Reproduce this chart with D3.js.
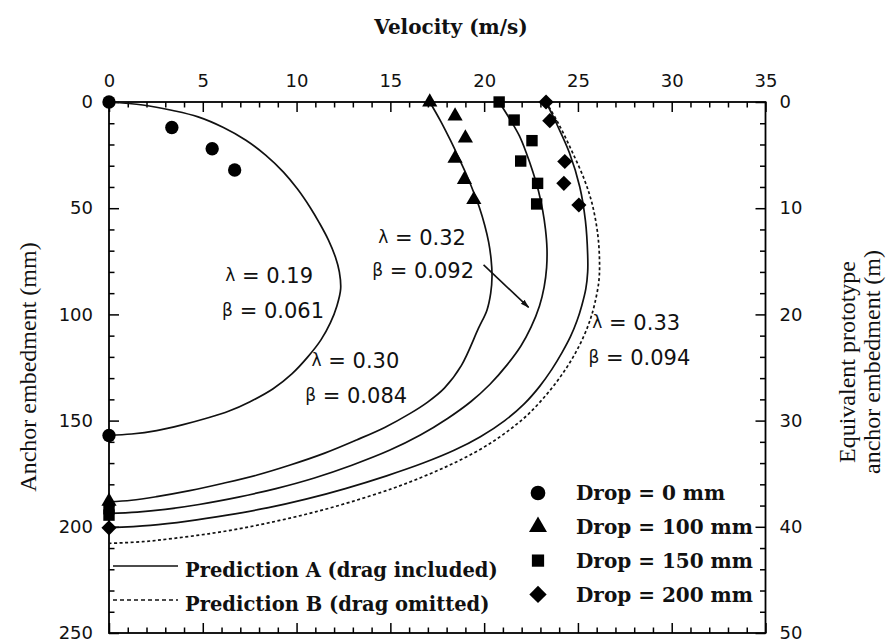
<!DOCTYPE html>
<html>
<head>
<meta charset="utf-8">
<script src="https://cdn.jsdelivr.net/npm/d3@7"></script>
<style>
  html, body { margin: 0; padding: 0; background: #fff; }
  svg { display: block; }
</style>
</head>
<body>
<svg id="chart" width="890" height="644"></svg>
<script>
// ---- data: velocity (m/s) vs anchor embedment (mm) ----
const velocityTicks = [0, 5, 10, 15, 20, 25, 30, 35];
const embedmentTicks = [0, 50, 100, 150, 200, 250];
const prototypeTicks = [0, 10, 20, 30, 40, 50];

// measured points [velocity, embedment]
const drop0 = [[0, 0], [3.35, 12], [5.5, 22], [6.7, 32], [0, 157]];
const drop100 = [[17.1, 0], [18.45, 6.6], [19.0, 17], [18.45, 26.5], [18.95, 36.5], [19.45, 46], [0, 188]];
const drop150 = [[20.8, 0], [21.6, 8.5], [22.55, 18.2], [21.95, 27.8], [22.85, 38.3], [22.8, 48], [0, 191.5], [0, 194.5]];
const drop200 = [[23.3, 0], [23.5, 8.8], [24.3, 28], [24.25, 38.3], [25.05, 48.5], [0, 200.5]];

// Prediction A (drag included), [velocity, embedment]
const predA019 = [[0, 0], [1.8, 1.4], [3.4, 4], [4.75, 7], [6.1, 12], [7.3, 18], [8.35, 25], [9.3, 33], [10.05, 41], [10.75, 50], [11.22, 57], [11.7, 65], [12.07, 73], [12.28, 80], [12.35, 88], [12.15, 96], [11.8, 104], [11.3, 112], [10.6, 120], [9.75, 128], [8.75, 135], [7.52, 141.1], [6.4, 145.5], [5.2, 148.9], [3.9, 152], [2.54, 154.7], [1.2, 156.3], [0, 156.9]];
const predA030 = [[17.1, 0], [17.68, 9], [18.2, 18], [18.63, 26], [19.05, 34], [19.42, 42], [19.76, 50], [20.03, 58], [20.24, 66], [20.37, 74], [20.42, 82], [20.35, 90], [20.15, 98], [19.7, 106.5], [18.79, 124], [17.88, 134.7], [16.97, 141.4], [16.06, 146.6], [14.7, 153.2], [13.2, 159.1], [11.5, 165.3], [9.66, 170.9], [7.9, 175.6], [6.1, 179.5], [4.3, 183], [2.54, 185.8], [1.2, 187.5], [0, 188.2]];
const predA032 = [[20.8, 0], [21.4, 8.5], [21.88, 16], [22.25, 24], [22.6, 33], [22.9, 42], [23.12, 51], [23.27, 60], [23.35, 69], [23.33, 78], [23.2, 87], [22.95, 96], [22.5, 106], [21.95, 115], [21.2, 124], [20.3, 133], [19.3, 141], [18.05, 149], [16.6, 156.8], [14.95, 164], [12.95, 171], [10.95, 177], [8.9, 182], [6.9, 186], [4.8, 189.5], [3.0, 191.8], [1.5, 193.1], [0, 193.7]];
const predA033 = [[23.3, 0], [23.85, 10], [24.55, 24], [25.1, 40], [25.4, 56], [25.52, 72], [25.52, 80], [25.42, 88], [25.2, 96], [24.95, 103], [24.6, 110.5], [24.15, 118], [23.6, 126], [22.95, 134], [22.15, 142], [21.1, 150], [19.8, 157.6], [18.4, 164], [16.75, 170], [14.8, 176], [12.6, 182], [10.5, 187], [8.5, 191], [6.3, 194.5], [4.2, 197.3], [2.2, 199.3], [0, 200.4]];
// Prediction B (drag omitted)
const predB033 = [[23.3, 0], [23.95, 10], [24.65, 22.6], [25.35, 36.7], [25.75, 47.7], [26.05, 61.8], [26.15, 74.4], [26.12, 84], [25.9, 94.8], [25.65, 102.6], [25.3, 110.5], [24.75, 120], [24.07, 129.3], [23.3, 138], [22.4, 146.6], [21.55, 153], [20.6, 159.1], [19.5, 165], [18.15, 171], [16.75, 176.4], [15.1, 182], [13.0, 188], [11.0, 193], [9.1, 197], [7.2, 200.5], [5.3, 203.3], [3.4, 205.5], [1.8, 207], [0, 207.8]];

// parameter labels [symbol, value, velocity, embedment]
const paramLabels = [
  ["λ", "0.19", 6.2, 85.2], ["β", "0.061", 6.03, 101.7],
  ["λ", "0.30", 10.8, 125.2], ["β", "0.084", 10.46, 141.7],
  ["λ", "0.32", 14.35, 67.3], ["β", "0.092", 14.03, 82.9],
  ["λ", "0.33", 25.77, 107.3], ["β", "0.094", 25.56, 123.8]
];
const arrowFromTo = [[19.97, 76.7], [22.37, 96.7]];

const legendDrops = ["Drop = 0 mm", "Drop = 100 mm", "Drop = 150 mm", "Drop = 200 mm"];
const legendLines = ["Prediction A (drag included)", "Prediction B (drag omitted)"];

// ---- layout ----
const svg = d3.select("#chart");
const plotL = 109, plotR = 765.5, plotT = 102, plotB = 633;
const x = d3.scaleLinear().domain([0, 35]).range([plotL, plotR]);
const y = d3.scaleLinear().domain([0, 250]).range([plotT, plotB]);
const yR = d3.scaleLinear().domain([0, 50]).range([plotT, plotB]);

const tickFont = "'DejaVu Sans', Verdana, sans-serif";
const times = "'Liberation Serif', 'Times New Roman', serif";
const bookFont = "'DejaVu Serif', 'Century Schoolbook', serif";

function styleAxis(g) {
  g.select(".domain").remove();
  g.selectAll("line").attr("stroke", "#000").attr("stroke-width", 1.5);
  g.selectAll("text").attr("font-family", tickFont).attr("font-size", 18).attr("fill", "#111");
}

// minor ticks
const minorV = d3.range(0, 35.01, 1).filter(v => v % 5 !== 0);
const minorE = d3.range(0, 250.01, 10).filter(v => v % 50 !== 0);
const minorP = d3.range(0, 50.01, 2).filter(v => v % 10 !== 0);
const majLen = -10, minLen = -5.5;

svg.append("g").attr("transform", `translate(0,${plotT})`)
  .call(d3.axisTop(x).tickValues(velocityTicks).tickSize(majLen).tickSizeOuter(0).tickPadding(15)).call(styleAxis);
svg.append("g").attr("transform", `translate(0,${plotT})`)
  .call(d3.axisTop(x).tickValues(minorV).tickSize(minLen).tickFormat("")).call(styleAxis);
svg.append("g").attr("transform", `translate(0,${plotB})`)
  .call(d3.axisBottom(x).tickValues(velocityTicks).tickSize(majLen).tickFormat("")).call(styleAxis);
svg.append("g").attr("transform", `translate(0,${plotB})`)
  .call(d3.axisBottom(x).tickValues(minorV).tickSize(minLen).tickFormat("")).call(styleAxis);

svg.append("g").attr("transform", `translate(${plotL},0)`)
  .call(d3.axisLeft(y).tickValues(embedmentTicks).tickSize(majLen).tickPadding(16)).call(styleAxis);
svg.append("g").attr("transform", `translate(${plotL},0)`)
  .call(d3.axisLeft(y).tickValues(minorE).tickSize(minLen).tickFormat("")).call(styleAxis);

svg.append("g").attr("transform", `translate(${plotR},0)`)
  .call(d3.axisRight(yR).tickValues(prototypeTicks).tickSize(majLen).tickPadding(14)).call(styleAxis);
svg.append("g").attr("transform", `translate(${plotR},0)`)
  .call(d3.axisRight(yR).tickValues(minorP).tickSize(minLen).tickFormat("")).call(styleAxis);

// frame
svg.append("rect").attr("x", plotL).attr("y", plotT).attr("width", plotR - plotL).attr("height", plotB - plotT)
  .attr("fill", "none").attr("stroke", "#000").attr("stroke-width", 1.8);

// axis titles
svg.append("text").attr("x", 451).attr("y", 34).attr("text-anchor", "middle")
  .attr("font-family", bookFont).attr("font-weight", "bold").attr("font-size", 20).attr("fill", "#111")
  .text("Velocity (m/s)");
svg.append("text").attr("transform", "translate(36,367) rotate(-90)").attr("text-anchor", "middle")
  .attr("font-family", times).attr("font-size", 24).attr("fill", "#111").text("Anchor embedment (mm)");
svg.append("text").attr("transform", "translate(855,362) rotate(-90)").attr("text-anchor", "middle")
  .attr("font-family", times).attr("font-size", 24).attr("fill", "#111").text("Equivalent prototype");
svg.append("text").attr("transform", "translate(880,362) rotate(-90)").attr("text-anchor", "middle")
  .attr("font-family", times).attr("font-size", 24).attr("fill", "#111").text("anchor embedment (m)");

// prediction curves
const line = d3.line().x(d => x(d[0])).y(d => y(d[1])).curve(d3.curveCatmullRom.alpha(0.5));
[predA019, predA030, predA032, predA033].forEach(c => {
  svg.append("path").attr("d", line(c)).attr("fill", "none").attr("stroke", "#111").attr("stroke-width", 1.7);
});
svg.append("path").attr("d", line(predB033)).attr("fill", "none").attr("stroke", "#111")
  .attr("stroke-width", 1.7).attr("stroke-dasharray", "3,2.5");

// measured markers
const symCircle = d3.symbol().type(d3.symbolCircle).size(140);
const symTri = d3.symbol().type(d3.symbolTriangle).size(100);
const symSq = d3.symbol().type(d3.symbolSquare).size(130);
const symDia = d3.symbol().type(d3.symbolSquare).size(115);
function drawPts(data, sym, rot) {
  svg.append("g").selectAll("path").data(data).join("path")
    .attr("d", sym)
    .attr("transform", d => `translate(${x(d[0])},${y(d[1])})${rot ? " rotate(45)" : ""}`)
    .attr("fill", "#000");
}
drawPts(drop0, symCircle);
drawPts(drop100, symTri);
drawPts(drop150, symSq);
drawPts(drop200, symDia, true);

// parameter labels
const pl = svg.append("g").selectAll("text").data(paramLabels).join("text")
  .attr("x", d => x(d[2])).attr("y", d => y(d[3])).attr("dy", "0.36em")
  .attr("font-family", tickFont).attr("fill", "#111");
pl.append("tspan").attr("font-size", 17).attr("dy", "-0.1em").text(d => d[0]);
pl.append("tspan").attr("font-size", 21).attr("dy", "0.1em").text(d => " = " + d[1]);

// arrow
svg.append("defs").append("marker").attr("id", "arrowhead").attr("viewBox", "0 0 10 10")
  .attr("refX", 9).attr("refY", 5).attr("markerWidth", 9).attr("markerHeight", 9).attr("orient", "auto")
  .attr("markerUnits", "userSpaceOnUse")
  .append("path").attr("d", "M0,2 L10,5 L0,8 Z").attr("fill", "#111");
svg.append("line")
  .attr("x1", x(arrowFromTo[0][0])).attr("y1", y(arrowFromTo[0][1]))
  .attr("x2", x(arrowFromTo[1][0])).attr("y2", y(arrowFromTo[1][1]))
  .attr("stroke", "#111").attr("stroke-width", 1.6).attr("marker-end", "url(#arrowhead)");

// legend: measured
const legSyms = [
  [d3.symbol().type(d3.symbolCircle).size(170), false],
  [d3.symbol().type(d3.symbolTriangle).size(140), false],
  [d3.symbol().type(d3.symbolSquare).size(150), false],
  [d3.symbol().type(d3.symbolSquare).size(150), true]
];
legendDrops.forEach((t, i) => {
  const ly = 493 + i * 33.8;
  svg.append("path").attr("d", legSyms[i][0])
    .attr("transform", `translate(538,${ly})${legSyms[i][1] ? " rotate(45)" : ""}`).attr("fill", "#000");
  svg.append("text").attr("x", 576).attr("y", ly).attr("dy", "0.36em")
    .attr("font-family", bookFont).attr("font-weight", "bold").attr("font-size", 20).attr("fill", "#111").text(t);
});

// legend: predictions
legendLines.forEach((t, i) => {
  const ly = 566 + i * 34;
  svg.append("line").attr("x1", 113).attr("x2", 178).attr("y1", ly).attr("y2", ly)
    .attr("stroke", "#111").attr("stroke-width", 1.6).attr("stroke-dasharray", i ? "4,3" : null);
  svg.append("text").attr("x", 185).attr("y", ly + 4).attr("dy", "0.36em")
    .attr("font-family", bookFont).attr("font-weight", "bold").attr("font-size", 19.5).attr("fill", "#111").text(t);
});
</script>
</body>
</html>
